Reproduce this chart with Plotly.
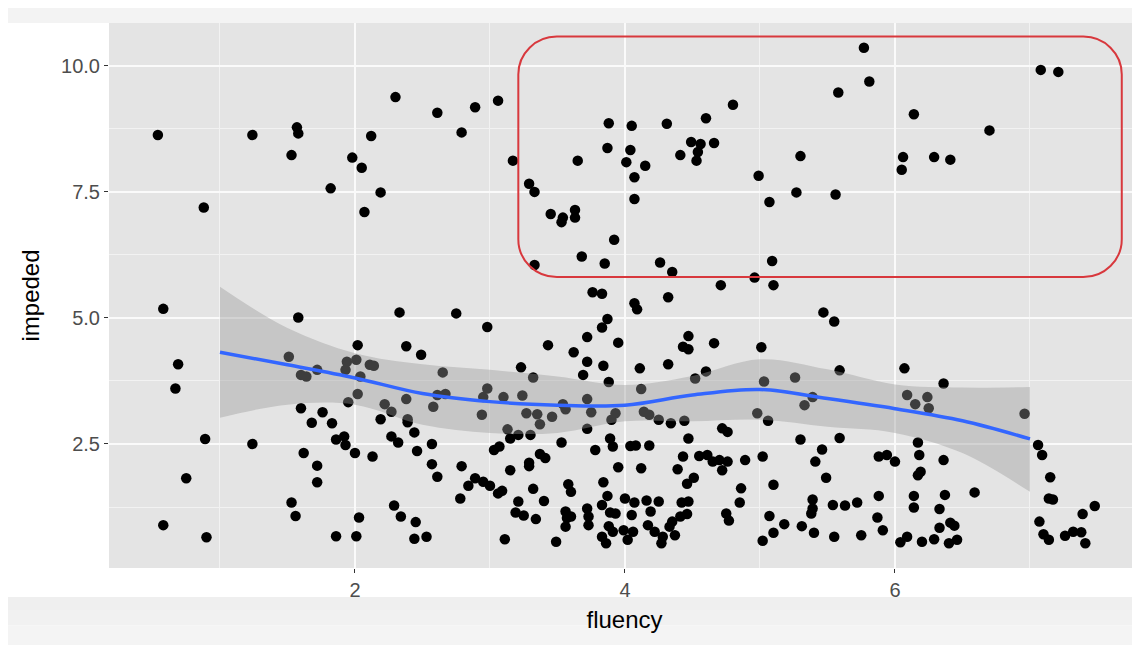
import plotly.graph_objects as go

# ---- data ----
fluency = [
    0.54, 1.24, 1.57, 1.58, 1.53, 1.98, 2.05, 1.82, 2.12,
    2.30, 2.61, 2.89, 3.06, 2.79, 2.19, 3.17, 3.29, 3.33, 3.65, 3.88, 3.87,
    5.77, 5.81, 5.58, 4.80, 4.60, 4.31, 4.05, 4.04, 4.01, 4.15, 4.07, 4.07, 4.41, 4.49, 4.56, 4.66, 4.54, 4.53, 4.99, 5.30, 5.27, 5.56, 5.07,
    7.08, 7.21, 6.14, 6.70, 6.06, 6.05, 6.29, 6.41,
    0.88, 0.58, 0.69, 0.67, 1.58, 2.02, 2.07, 1.51, 1.60, 1.64, 1.72, 1.94, 2.01, 1.93, 2.04, 2.11,
    3.45, 3.54, 3.53, 3.63, 3.63, 3.92, 3.68, 3.85, 3.33, 3.76, 3.83, 2.33, 2.75, 2.98, 3.87, 3.83, 3.72, 3.95, 3.43, 2.38, 2.49, 3.62, 3.72, 3.84, 3.69, 3.88, 3.23, 3.32, 2.14, 2.65,
    4.26, 4.35, 4.71, 4.96, 5.09, 5.10, 4.07, 4.09, 4.32, 5.47, 5.55, 4.47, 4.43, 4.47, 4.66, 5.01, 4.11, 4.32, 5.59, 4.52, 4.60, 5.03, 5.26,
    6.07, 6.36,
    0.89, 1.24, 0.75, 0.58, 0.90, 1.60, 1.76, 1.68, 1.83, 1.86, 1.92, 1.93, 2.00, 1.62, 1.72, 1.72, 1.53, 1.56, 2.03, 1.86, 2.01, 1.95, 2.02, 2.13,
    2.19, 2.27, 2.32, 2.39, 2.39, 2.44, 2.57, 2.46, 2.57, 2.61, 2.29, 2.34, 2.45, 2.44, 2.53, 2.79, 2.89, 2.84, 2.95, 3.00, 3.06, 3.09, 2.78, 3.03, 3.07,
    3.15, 3.29, 3.29, 3.37, 3.41, 3.32, 3.40, 3.21, 3.19, 3.25, 3.34, 3.11, 3.49, 3.53, 3.58, 3.60, 3.56, 3.57, 3.60, 3.56, 3.72, 3.73, 3.73, 3.84, 3.87,
    3.83, 3.89, 3.93, 3.88, 3.91, 3.83, 3.86, 3.95, 3.78, 3.89, 3.91, 3.72, 3.15, 3.21, 3.30, 3.13,
    2.22, 2.27, 2.38, 2.58, 2.61, 2.67, 2.94, 2.95, 2.98, 3.10, 3.24, 3.27, 3.35, 3.37, 3.46, 3.54, 3.56, 3.72, 3.75, 3.90, 3.93,
    4.12, 4.14, 4.18, 4.25, 4.34, 4.44, 4.98, 5.06, 5.33, 5.39, 4.72, 4.76, 4.47, 5.30, 5.59, 4.04, 4.08, 4.18, 4.43, 4.55, 4.61, 4.65, 4.70, 4.76, 4.72,
    4.89, 5.02, 4.12, 4.39, 4.51, 4.46, 5.46, 5.41, 5.49, 4.86, 5.10, 4.00, 4.07, 4.16, 4.25, 4.19, 4.05, 4.42, 4.47, 4.46, 4.41, 4.35, 4.33, 4.17, 4.22,
    3.99, 4.06, 4.02, 4.28, 4.27, 4.37, 4.85, 4.75, 4.77, 5.07, 5.18, 5.10, 5.02, 5.31, 5.39, 5.39, 5.38, 5.40, 5.54, 5.63, 5.72, 5.55, 5.75,
    6.09, 6.15, 6.24, 6.25, 6.96, 6.17, 6.18, 6.36, 6.17, 6.19, 5.88, 5.94, 6.00, 5.88, 6.14, 6.14, 6.37, 6.33, 6.59, 5.87, 5.91, 6.41, 6.44, 6.33,
    6.04, 6.09, 6.20, 6.29, 6.40, 6.46, 7.06, 7.09, 7.15, 7.14, 7.17, 7.07, 7.10, 7.14, 7.26, 7.32, 7.38, 7.41, 7.39, 7.48,
]
impeded = [
    8.63, 8.63, 8.78, 8.66, 8.23, 8.18, 7.98, 7.57, 8.61,
    9.38, 9.07, 9.18, 9.31, 8.68, 7.49, 8.12, 7.66, 7.50, 8.12, 8.86, 8.37,
    10.36, 9.69, 9.47, 9.23, 8.96, 8.85, 8.81, 8.33, 8.09, 8.02, 7.79, 7.36, 8.23, 8.49, 8.45, 8.47, 8.29, 8.12, 7.82, 8.21, 7.49, 7.45, 7.30,
    9.92, 9.88, 9.04, 8.72, 8.19, 7.94, 8.19, 8.14,
    7.19, 5.18, 4.08, 3.60, 5.01, 4.46, 7.10, 4.23, 3.87, 3.84, 3.97, 4.13, 4.17, 3.97, 3.84, 4.07,
    7.06, 6.99, 6.90, 7.14, 6.99, 6.55, 6.22, 6.08, 6.05, 5.51, 5.48, 5.11, 5.09, 4.82, 4.98, 4.81, 4.62, 4.51, 4.46, 4.44, 4.27, 4.32, 4.13, 4.05, 3.87, 3.73, 4.02, 3.82, 4.05, 3.92,
    6.10, 5.91, 5.65, 5.80, 6.13, 5.65, 5.29, 5.17, 5.41, 5.11, 4.93, 4.64, 4.43, 4.38, 4.50, 4.42, 4.00, 4.08, 3.96, 3.80, 3.94, 3.74, 3.82,
    4.00, 3.70,
    2.60, 2.50, 1.82, 0.89, 0.65, 3.21, 3.13, 2.92, 2.91, 2.59, 2.65, 2.48, 2.32, 2.32, 2.07, 1.74, 1.34, 1.07, 1.04, 0.67, 0.67, 3.33, 3.49, 2.25,
    2.99, 2.65, 2.53, 2.99, 2.93, 2.73, 2.50, 2.36, 2.10, 1.85, 1.28, 1.06, 0.95, 0.62, 0.66, 2.06, 1.82, 1.67, 1.75, 1.67, 1.52, 1.57, 1.42, 2.38, 2.45,
    1.98, 2.06, 2.13, 2.30, 2.22, 1.61, 1.37, 1.36, 1.14, 1.08, 1.01, 0.61, 0.56, 2.53, 1.70, 1.55, 1.16, 1.03, 1.06, 0.86, 1.22, 1.06, 0.89, 1.74, 1.47,
    1.29, 1.14, 1.12, 0.87, 0.76, 0.66, 0.53, 2.04, 2.38, 2.61, 2.45, 2.80, 2.61, 2.68, 2.68, 2.79,
    3.29, 3.14, 3.39, 3.24, 3.47, 3.49, 3.08, 3.43, 3.60, 3.43, 3.46, 3.11, 3.09, 2.89, 3.04, 3.29, 3.19, 3.39, 3.13, 2.98, 3.11,
    3.59, 3.14, 3.08, 2.98, 2.91, 2.96, 3.11, 2.96, 3.27, 3.43, 2.81, 2.74, 2.61, 2.59, 2.62, 2.46, 2.47, 2.47, 2.25, 2.26, 2.28, 2.15, 2.18, 2.15, 1.98,
    2.18, 2.25, 2.02, 2.00, 1.83, 1.71, 2.39, 2.15, 1.83, 1.62, 1.69, 1.42, 1.34, 1.38, 1.36, 1.16, 1.09, 1.34, 1.36, 1.11, 1.06, 0.96, 0.86, 0.89, 0.76,
    0.79, 0.76, 0.60, 0.66, 0.53, 0.69, 1.34, 1.12, 0.98, 1.07, 0.91, 0.74, 0.58, 0.87, 1.40, 1.22, 1.12, 0.74, 1.29, 1.28, 1.34, 0.66, 0.69,
    3.47, 3.29, 3.43, 3.21, 3.10, 2.53, 2.28, 2.18, 1.88, 1.95, 2.25, 2.28, 2.15, 1.47, 1.47, 1.24, 1.49, 1.21, 1.54, 1.04, 0.79, 0.94, 0.88, 0.84,
    0.55, 0.66, 0.56, 0.61, 0.53, 0.60, 2.48, 2.28, 1.84, 1.42, 1.40, 0.96, 0.71, 0.60, 0.68, 0.76, 0.75, 0.53, 1.11, 1.27,
]

# loess smooth
smooth_x = [1.0, 1.5, 2.0, 2.5, 3.0, 3.5, 4.0, 4.5, 5.0, 5.5, 6.0, 6.5, 7.0]
smooth_y = [4.32, 4.07, 3.81, 3.50, 3.34, 3.27, 3.27, 3.47, 3.58, 3.40, 3.20, 2.96, 2.60]
smooth_hi = [5.62, 4.80, 4.30, 4.08, 3.97, 3.84, 3.67, 3.85, 4.18, 3.98, 3.68, 3.62, 3.63]
smooth_lo = [3.02, 3.28, 3.28, 2.88, 2.72, 2.72, 2.95, 2.95, 2.98, 2.84, 2.72, 2.32, 1.55]

x_ticks = [2, 4, 6]
y_ticks = [2.5, 5.0, 7.5, 10.0]

# highlight box (data units)
box_x0, box_x1, box_y0, box_y1 = 3.21, 7.68, 5.81, 10.58
box_rx, box_ry = 0.285, 0.75

fig = go.Figure()
fig.add_trace(go.Scatter(x=fluency, y=impeded, mode="markers",
                         marker=dict(color="black", size=10.5, line=dict(width=0)),
                         showlegend=False, hoverinfo="x+y"))
fig.add_trace(go.Scatter(x=smooth_x, y=smooth_lo, mode="lines",
                         line=dict(width=0, shape="spline"), showlegend=False, hoverinfo="skip"))
fig.add_trace(go.Scatter(x=smooth_x, y=smooth_hi, mode="lines", fill="tonexty",
                         fillcolor="rgba(153,153,153,0.4)",
                         line=dict(width=0, shape="spline"), showlegend=False, hoverinfo="skip"))
fig.add_trace(go.Scatter(x=smooth_x, y=smooth_y, mode="lines",
                         line=dict(color="#3366FF", width=3.5, shape="spline"), showlegend=False))

k = 0.5523
x0, x1, y0, y1, rx, ry = box_x0, box_x1, box_y0, box_y1, box_rx, box_ry
path = (
    f"M {x0+rx},{y1} L {x1-rx},{y1} "
    f"C {x1-rx+k*rx},{y1} {x1},{y1-ry+k*ry} {x1},{y1-ry} "
    f"L {x1},{y0+ry} "
    f"C {x1},{y0+ry-k*ry} {x1-rx+k*rx},{y0} {x1-rx},{y0} "
    f"L {x0+rx},{y0} "
    f"C {x0+rx-k*rx},{y0} {x0},{y0+ry-k*ry} {x0},{y0+ry} "
    f"L {x0},{y1-ry} "
    f"C {x0},{y1-ry+k*ry} {x0+rx-k*rx},{y1} {x0+rx},{y1} Z"
)
fig.add_shape(type="path", path=path, xref="x", yref="y",
              line=dict(color="#d8383d", width=2), layer="above")

# light screenshot-frame bands (top strip and soft bottom strip)
fig.add_shape(type="rect", xref="paper", yref="paper", x0=-0.2, x1=1.1, y0=1.0, y1=1.04,
              fillcolor="#f3f3f3", line=dict(width=0), layer="below")
for (b0, b1, col) in [(-0.077, -0.053, "#efefef"), (-0.105, -0.077, "#f1f1f1"), (-0.16, -0.105, "#f4f4f4")]:
    fig.add_shape(type="rect", xref="paper", yref="paper", x0=-0.2, x1=1.1, y0=b0, y1=b1,
                  fillcolor=col, line=dict(width=0), layer="below")

font_family = "Liberation Sans, Arial, sans-serif"
fig.update_layout(
    width=1140, height=645,
    margin=dict(l=101, r=8, t=15, b=85),
    paper_bgcolor="#ffffff",
    plot_bgcolor="#e4e4e4",
    font=dict(family=font_family, color="#4d4d4d"),
    xaxis=dict(range=[0.178, 7.815], tickvals=x_ticks, ticktext=[str(v) for v in x_ticks],
               showgrid=True, gridcolor="#fafafa", gridwidth=1.5,
               minor=dict(dtick=1, tick0=0, showgrid=True, gridcolor="#f2f2f2", gridwidth=0.7, ticks=""),
               zeroline=False, ticks="outside", ticklen=4, tickcolor="#333333",
               tickfont=dict(size=20, color="#4d4d4d"),
               title=dict(text="fluency", font=dict(size=24, color="#000000"), standoff=11),
               automargin=False),
    yaxis=dict(range=[0.04, 10.85], tickvals=y_ticks, ticktext=[f"{v:.1f}" for v in y_ticks],
               showgrid=True, gridcolor="#fafafa", gridwidth=1.5,
               minor=dict(dtick=1.25, tick0=0, showgrid=True, gridcolor="#f2f2f2", gridwidth=0.7, ticks=""),
               zeroline=False, ticks="outside", ticklen=4, tickcolor="#333333",
               tickfont=dict(size=20, color="#4d4d4d"),
               title=dict(text="impeded", font=dict(size=24, color="#000000"), standoff=14),
               automargin=False),
)
fig.write_html("out.html")
